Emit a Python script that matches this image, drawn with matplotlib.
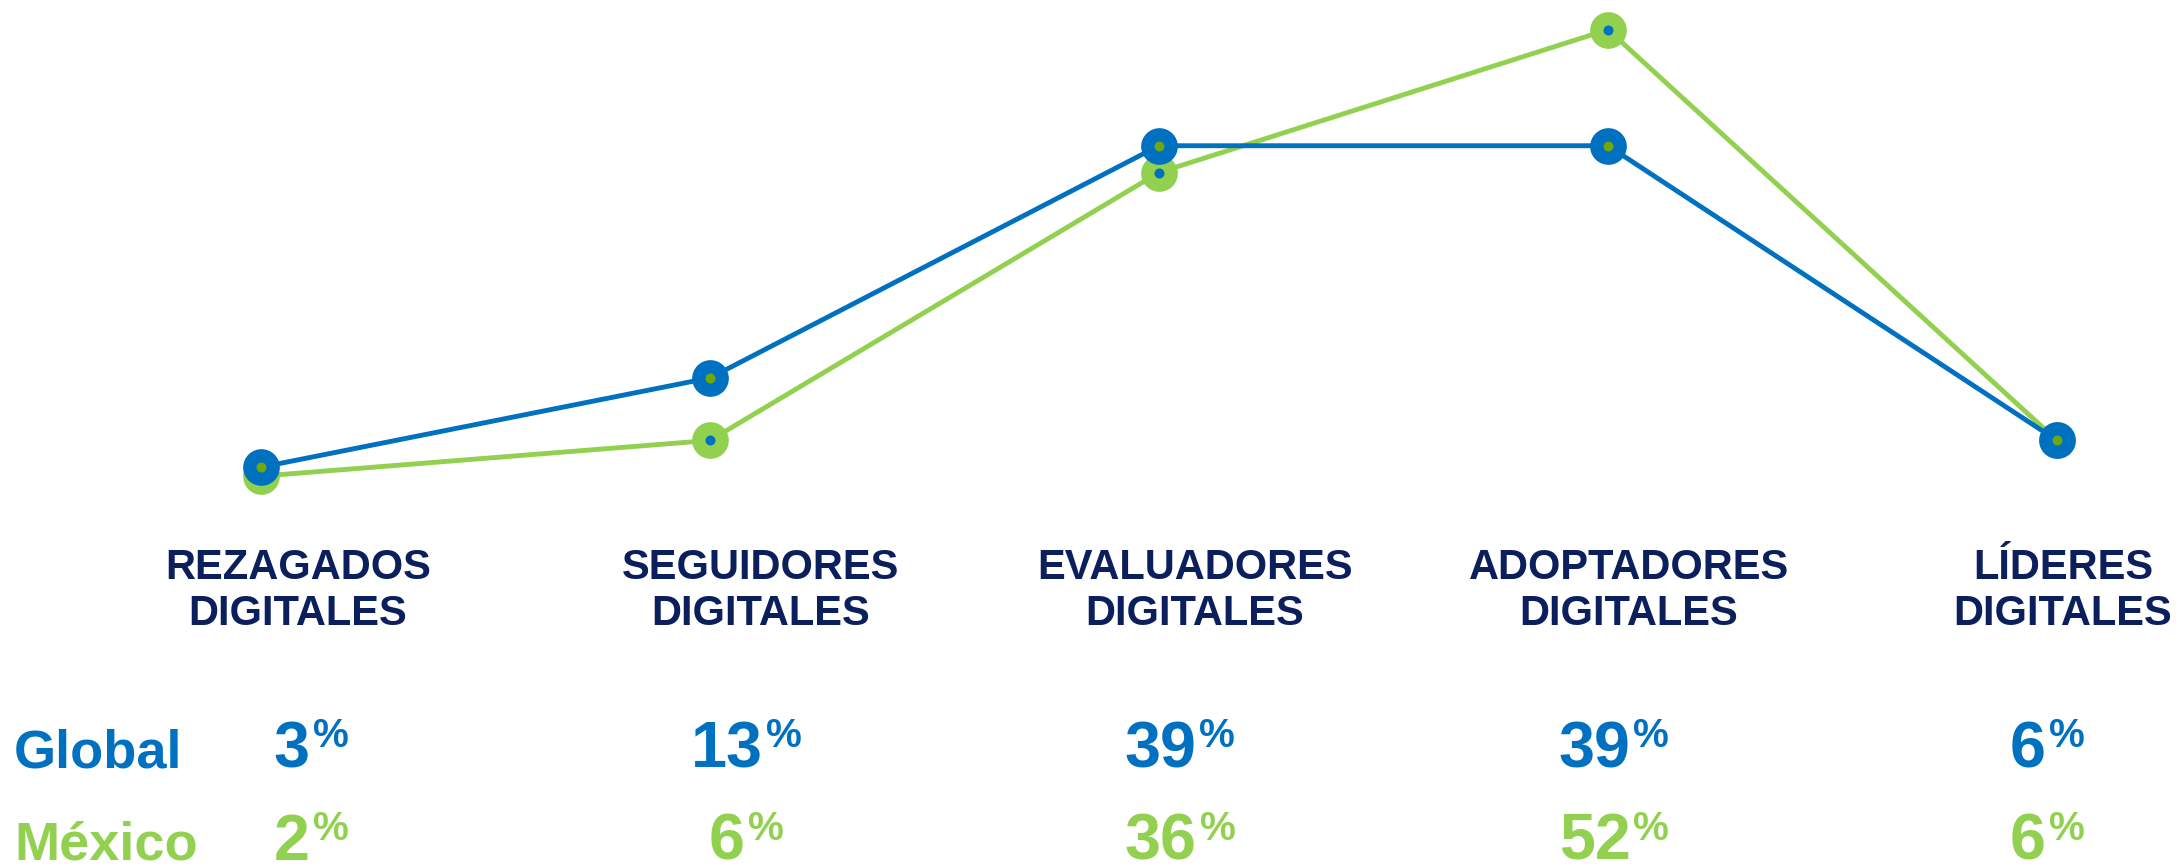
import matplotlib
matplotlib.use("Agg")
import matplotlib.pyplot as plt

# Madurez digital: Global vs México
CATEGORIES = [("REZAGADOS", "DIGITALES"), ("SEGUIDORES", "DIGITALES"),
              ("EVALUADORES", "DIGITALES"), ("ADOPTADORES", "DIGITALES"),
              ("LÍDERES", "DIGITALES")]
GLOBAL = [3, 13, 39, 39, 6]
MEXICO = [2, 6, 36, 52, 6]
SERIES_NAMES = ["Global", "México"]

BLUE = "#0070C0"
GREEN = "#92D050"
OLIVE = "#6FA80A"
NAVY = "#0B1F5C"

W, H = 2179, 865
DPI = 100

# layout (pixel positions, from top-left)
LABEL_CX = [298, 761, 1195, 1629, 2063]
VALUE_CX = [311, 746, 1180, 1614, 2047]
LABEL_BASE = [579, 625]
ROW_BASE = [767, 860]
ROW_LEFT = 14

plt.rcParams["font.family"] = ["Liberation Sans", "DejaVu Sans"]


def fx(px):
    return px / W


def fy(py):
    return 1 - py / H


def main():
    fig = plt.figure(figsize=(W / DPI, H / DPI), dpi=DPI)
    ax = fig.add_axes([0, 0, 1, 1])
    ax.axis("off")

    x = list(range(len(CATEGORIES)))
    # point i sits at pixel 261 + 449*i, value v at pixel 494 - 8.93*v
    ax.set_xlim(-261 / 449, (W - 261) / 449)
    ax.set_ylim((494 - H) / 8.93, 494 / 8.93)

    ax.plot(x, MEXICO, color=GREEN, lw=3.5, marker="o", ms=16.8, mew=9.6,
            mec=GREEN, mfc=BLUE, solid_capstyle="round", zorder=2)
    ax.plot(x, GLOBAL, color=BLUE, lw=3.5, marker="o", ms=16.8, mew=9.6,
            mec=BLUE, mfc=OLIVE, solid_capstyle="round", zorder=3)

    # category labels
    for cx, (l1, l2) in zip(LABEL_CX, CATEGORIES):
        for txt, base in zip((l1, l2), LABEL_BASE):
            fig.text(fx(cx), fy(base), txt, ha="center", va="baseline",
                     fontsize=30, fontweight="bold", color=NAVY)

    # row names
    for name, base, col in zip(SERIES_NAMES, ROW_BASE, (BLUE, GREEN)):
        fig.text(fx(ROW_LEFT), fy(base), name, ha="left", va="baseline",
                 fontsize=39, fontweight="bold", color=col)

    # values with raised percent sign
    renderer = fig.canvas.get_renderer()
    for vals, base, col in zip((GLOBAL, MEXICO), ROW_BASE, (BLUE, GREEN)):
        for cx, v in zip(VALUE_CX, vals):
            t1 = fig.text(0, fy(base), str(v), ha="left", va="baseline",
                          fontsize=46.5, fontweight="bold", color=col)
            t2 = fig.text(0, fy(base - 20), "%", ha="left", va="baseline",
                          fontsize=29, fontweight="bold", color=col)
            w1 = t1.get_window_extent(renderer).width
            w2 = t2.get_window_extent(renderer).width
            gap = 3
            left = cx - (w1 + gap + w2) / 2
            t1.set_x(fx(left))
            t2.set_x(fx(left + w1 + gap))

    fig.savefig("out.png", dpi=DPI, facecolor="white")


if __name__ == "__main__":
    main()
